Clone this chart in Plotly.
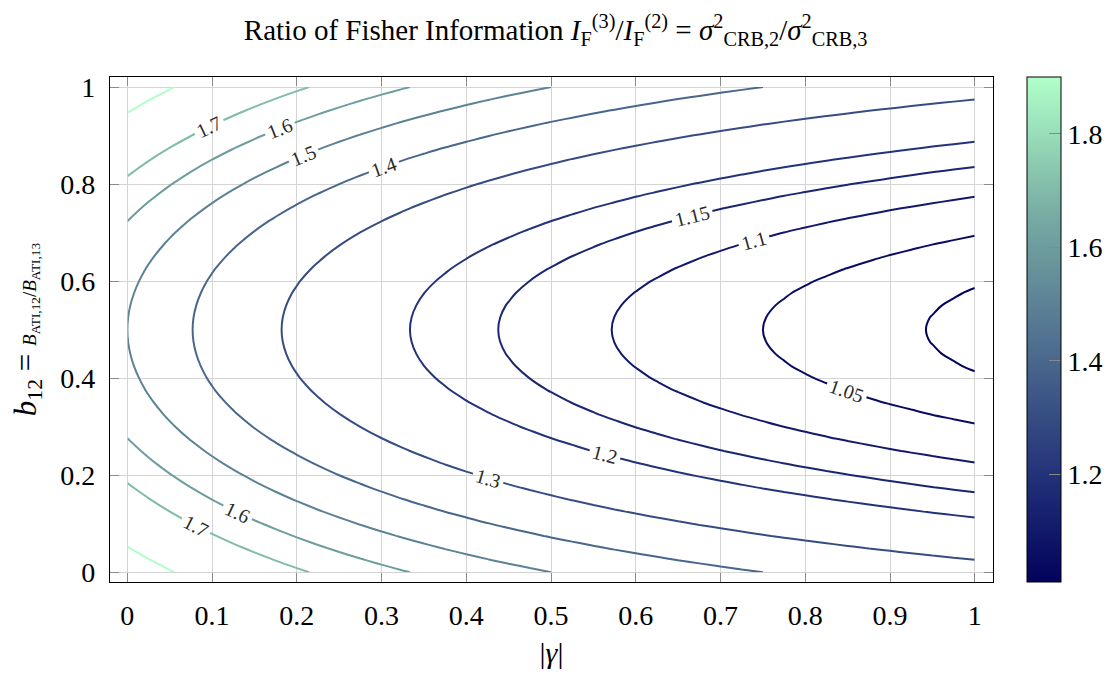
import numpy as np
import plotly.graph_objects as go
from plotly.colors import sample_colorscale

# grid of |gamma| (x) and b12 (y)
gamma_grid = [0.0, 0.025, 0.05, 0.075, 0.1, 0.125, 0.15, 0.175, 0.2, 0.225, 0.25, 0.275, 0.3, 0.325,
              0.35, 0.375, 0.4, 0.425, 0.45, 0.475, 0.5, 0.525, 0.55, 0.575, 0.6, 0.625, 0.65, 0.675,
              0.7, 0.725, 0.75, 0.775, 0.8, 0.825, 0.85, 0.875, 0.9, 0.925, 0.95, 0.975, 1.0]
b_grid = [0.0, 0.025, 0.05, 0.075, 0.1, 0.125, 0.15, 0.175, 0.2, 0.225, 0.25, 0.275, 0.3, 0.325,
          0.35, 0.375, 0.4, 0.425, 0.45, 0.475, 0.5, 0.525, 0.55, 0.575, 0.6, 0.625, 0.65, 0.675,
          0.7, 0.725, 0.75, 0.775, 0.8, 0.825, 0.85, 0.875, 0.9, 0.925, 0.95, 0.975, 1.0]

# coherence-dependent factor (one value per gamma_grid entry)
coherence_factor = [1.0, 0.976190, 0.954545, 0.934783, 0.916667, 0.9, 0.884615, 0.870370, 0.857143,
                    0.844828, 0.833333, 0.822581, 0.8125, 0.803030, 0.794118, 0.785714, 0.777778,
                    0.770270, 0.763158, 0.756410, 0.75, 0.743902, 0.738095, 0.732558, 0.727273,
                    0.722222, 0.717391, 0.712766, 0.708333, 0.704082, 0.7, 0.696078, 0.692308,
                    0.688679, 0.685185, 0.681818, 0.678571, 0.675439, 0.672414, 0.669492, 0.666667]
# baseline-ratio factor (one value per b_grid entry)
baseline_factor = [2.0, 1.95125, 1.905, 1.86125, 1.82, 1.78125, 1.745, 1.71125, 1.68, 1.65125, 1.625,
                   1.60125, 1.58, 1.56125, 1.545, 1.53125, 1.52, 1.51125, 1.505, 1.50125, 1.5,
                   1.50125, 1.505, 1.51125, 1.52, 1.53125, 1.545, 1.56125, 1.58, 1.60125, 1.625,
                   1.65125, 1.68, 1.71125, 1.745, 1.78125, 1.82, 1.86125, 1.905, 1.95125, 2.0]

contour_levels = [1.01, 1.05, 1.1, 1.15, 1.2, 1.3, 1.4, 1.5, 1.6, 1.7, 1.9]
colorbar_ticks = [1.2, 1.4, 1.6, 1.8]
x_ticks = [0, 0.1, 0.2, 0.3, 0.4, 0.5, 0.6, 0.7, 0.8, 0.9, 1]
y_ticks = [0, 0.2, 0.4, 0.6, 0.8, 1]

z = np.outer(baseline_factor, coherence_factor)

cmin, cmax = min(contour_levels), max(contour_levels)
colorscale = [[0.0, "rgb(2,2,92)"], [0.22, "rgb(36,52,122)"], [0.5, "rgb(84,118,146)"],
              [0.72, "rgb(118,170,162)"], [1.0, "rgb(176,255,200)"]]

FONT = "Liberation Serif"
fig = go.Figure()

for lev in contour_levels:
    col = sample_colorscale(colorscale, [(lev - cmin) / (cmax - cmin)])[0]
    fig.add_trace(go.Contour(
        x=gamma_grid, y=b_grid, z=z,
        autocontour=False,
        contours=dict(start=lev, end=lev, size=0.005, coloring="none", showlabels=True,
                      labelformat="~g",
                      labelfont=dict(family=FONT, size=20, color="#2a2a2a")),
        line=dict(color=col, width=2, smoothing=1),
        showscale=False, hoverinfo="skip"))

fig.add_trace(go.Scatter(
    x=[-1], y=[-1], mode="markers", showlegend=False, hoverinfo="skip",
    marker=dict(size=1, color=[cmin], cmin=cmin, cmax=cmax, colorscale=colorscale, showscale=True,
                colorbar=dict(x=1.0385, xanchor="left", xpad=0, y=0.5, yanchor="middle", ypad=0,
                              len=1, lenmode="fraction", thickness=34,
                              outlinecolor="black", outlinewidth=1,
                              tickvals=colorbar_ticks, ticks="inside", ticklen=12,
                              tickcolor="#888888", tickwidth=1,
                              tickfont=dict(family=FONT, size=28, color="black")))))

axis_common = dict(showgrid=True, gridcolor="#d4d4d4", gridwidth=1, zeroline=False,
                   showline=True, linecolor="black", linewidth=1.3, mirror="allticks",
                   ticks="inside", ticklen=9, tickcolor="#8a8a8a", tickwidth=1.2, automargin=False,
                   tickfont=dict(family=FONT, size=28, color="black"), ticklabelstandoff=8)

# the page adds an 8px body margin, so the figure is 8px smaller and margins shifted
fig.update_layout(
    width=1112, height=667,
    paper_bgcolor="white", plot_bgcolor="white",
    margin=dict(l=102, r=127, t=69, b=93, autoexpand=False),
    showlegend=False,
    title=dict(text="Ratio of Fisher Information <i>I</i><sub>F</sub><sup>(3)</sup>/<i>I</i><sub>F</sub><sup>(2)</sup>"
                    " = <i>σ</i><sup>2</sup><sub>CRB,2</sub>/<i>σ</i><sup>2</sup><sub>CRB,3</sub>",
               x=0.4925, xanchor="center", y=0.967, yanchor="middle",
               font=dict(family=FONT, size=29, color="black")),
    xaxis=dict(range=[-0.0205, 1.0215], tickvals=x_ticks,
               title=dict(text="|<i>γ</i>|", font=dict(family=FONT, size=30, color="black"), standoff=12),
               **axis_common),
    yaxis=dict(range=[-0.02, 1.0206], tickvals=y_ticks,
               title=dict(text="<i>b</i><sub>12</sub> = <span style='font-size:19px'><i>B</i><sub>ATI,12</sub>/<i>B</i><sub>ATI,13</sub></span>",
                          font=dict(family=FONT, size=31, color="black"), standoff=18),
               **axis_common),
)

fig.write_html("out.html")
